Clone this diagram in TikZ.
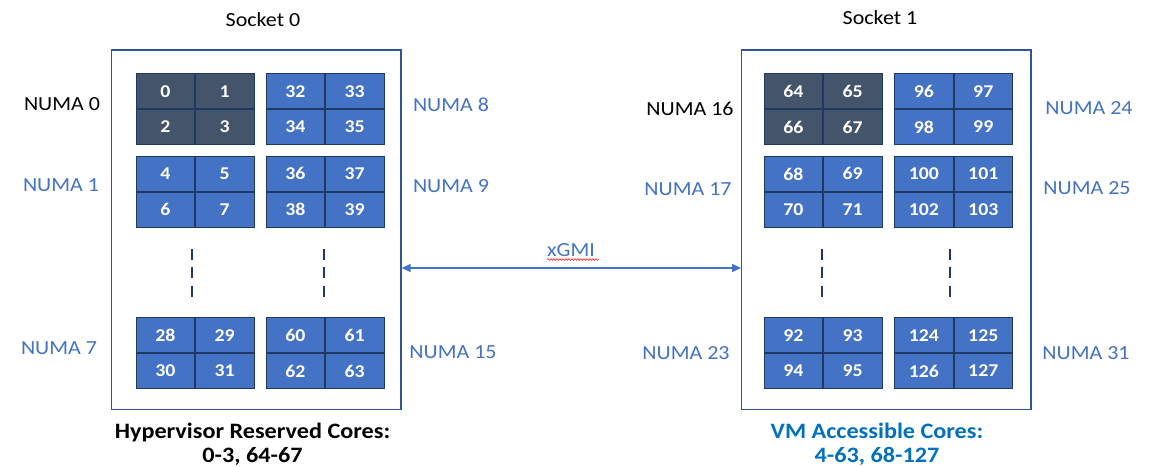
\documentclass[tikz,border=0pt]{standalone}
\usepackage{fontspec}
\setmainfont{Carlito}[FakeStretch=1.1]
\usetikzlibrary{arrows.meta,decorations.pathmorphing}
\definecolor{cellblue}{HTML}{4472C4}
\definecolor{celldark}{HTML}{44546A}
\definecolor{cellline}{HTML}{203864}
\definecolor{boxline}{HTML}{2F5597}
\definecolor{numablue}{HTML}{4472C4}
\definecolor{vmblue}{HTML}{0070C0}
\newcommand\coreblock[8]{%
  \node[cell,fill=#4,anchor=north west] (#1a) at (#2,#3) {#5};
  \node[cell,fill=#4,anchor=west] (#1b) at (#1a.east) {#6};
  \node[cell,fill=#4,anchor=north] (#1c) at (#1a.south) {#7};
  \node[cell,fill=#4,anchor=north] (#1d) at (#1b.south) {#8};
}
\tikzset{
  cell/.style={draw=cellline,line width=0.8pt,minimum width=58.5pt,minimum height=35pt,
    inner sep=0pt,text=white,font=\fontsize{18}{18}\selectfont\bfseries},
  sock/.style={draw=boxline,line width=1.3pt,inner sep=0pt},
  numa/.style={font=\fontsize{20}{24}\selectfont,text=numablue,inner sep=0pt},
  numak/.style={font=\fontsize{20}{24}\selectfont,text=black,inner sep=0pt},
  lbl/.style={font=\fontsize{20}{24}\selectfont,text=black,inner sep=0pt},
  foot/.style={font=\fontsize{22}{24}\selectfont\bfseries,inner sep=0pt,anchor=base},
  dline/.style={draw=cellline,line width=2.6pt,dash pattern=on 11pt off 7.3pt},
  arr/.style={draw=numablue,line width=1.2pt,{Triangle[length=9pt,width=8pt]}-{Triangle[length=9pt,width=8pt]}},
}
\begin{document}
\begin{tikzpicture}[x=1pt,y=-1pt]
\useasboundingbox (0,0) rectangle (1155,466);
% sockets
\node[sock,minimum width=289.3pt,minimum height=359.3pt] (s0) at (256.35,229.65) {};
\node[sock,minimum width=289.3pt,minimum height=359.3pt] (s1) at (886.35,229.65) {};
\node[lbl] (s0l) at (263,20) {Socket 0};
\node[lbl] (s1l) at (880,18) {Socket 1};
% socket 0 blocks
\coreblock{n0}{135.7}{73.3}{celldark}{0}{1}{2}{3}
\coreblock{n8}{265.7}{73.3}{cellblue}{32}{33}{34}{35}
\coreblock{n1}{135.7}{156}{cellblue}{4}{5}{6}{7}
\coreblock{n9}{265.7}{156}{cellblue}{36}{37}{38}{39}
\coreblock{n7}{135.7}{317.3}{cellblue}{28}{29}{30}{31}
\coreblock{n15}{265.7}{317.3}{cellblue}{60}{61}{62}{63}
% socket 1 blocks
\coreblock{n16}{763.7}{73.3}{celldark}{64}{65}{66}{67}
\coreblock{n24}{894.3}{73.3}{cellblue}{96}{97}{98}{99}
\coreblock{n17}{763.7}{156}{cellblue}{68}{69}{70}{71}
\coreblock{n25}{894.3}{156}{cellblue}{100}{101}{102}{103}
\coreblock{n23}{763.7}{317.3}{cellblue}{92}{93}{94}{95}
\coreblock{n31}{894.3}{317.3}{cellblue}{124}{125}{126}{127}
% dashes
\draw[dline] (192,249) -- (192,297);
\draw[dline] (324,249) -- (324,297);
\draw[dline] (822,249) -- (822,297);
\draw[dline] (950,249) -- (950,297);
% NUMA labels
\node[numak] (l0) at (62,104.5) {NUMA 0};
\node[numa] (l1) at (61,185) {NUMA 1};
\node[numa] (l7) at (59,348) {NUMA 7};
\node[numa] (l8) at (451,105) {NUMA 8};
\node[numa] (l9) at (451,186) {NUMA 9};
\node[numa] (l15) at (453,352) {NUMA 15};
\node[numak] (l16) at (690,108.5) {NUMA 16};
\node[numa] (l17) at (688,189) {NUMA 17};
\node[numa] (l23) at (686,353) {NUMA 23};
\node[numa] (l24) at (1089,108) {NUMA 24};
\node[numa] (l25) at (1087,188) {NUMA 25};
\node[numa] (l31) at (1086,353) {NUMA 31};
% xGMI link
\coordinate (xy) at (571,268);
\draw[arr] (s0.east |- xy) -- (s1.west |- xy);
\node[numa] (xg) at (571,250) {xGMI};
\draw[red,line width=0.5pt,decorate,decoration={snake,amplitude=0.9pt,segment length=3pt}] (547,259.5) -- (599,259.5);
% footers
\node[foot,text=black] (hv1) at (252.5,438) {Hypervisor Reserved Cores:};
\node[foot,text=black] (hv2) at (252.5,462.5) {0-3, 64-67};
\node[foot,text=vmblue] (vm1) at (877,438) {VM Accessible Cores:};
\node[foot,text=vmblue] (vm2) at (877,462.5) {4-63, 68-127};
\end{tikzpicture}
\end{document}
